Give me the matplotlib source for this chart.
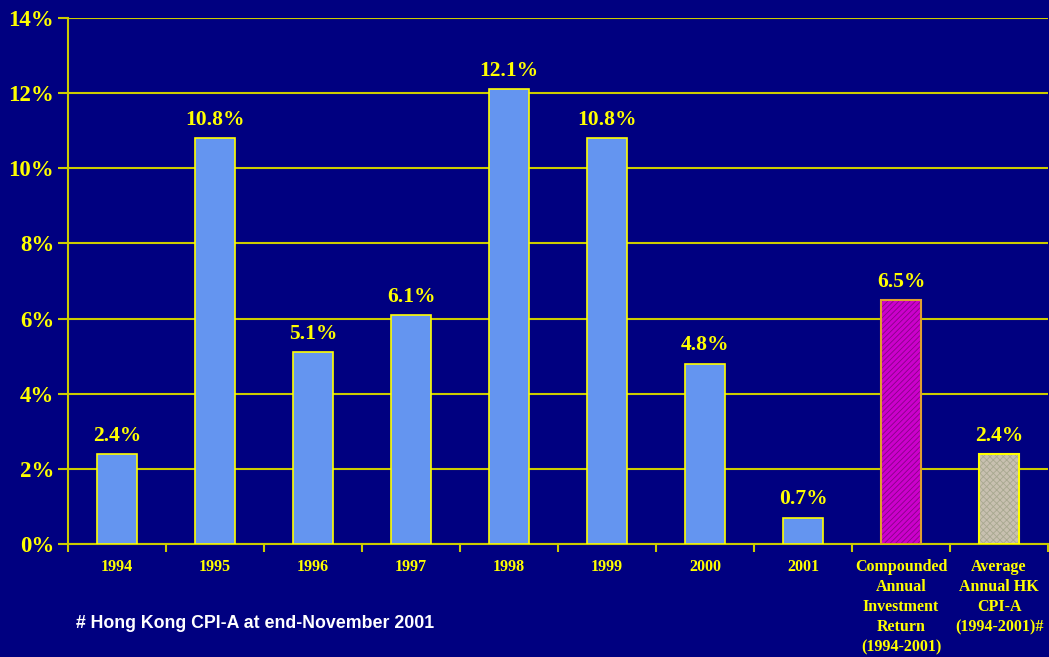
import matplotlib.pyplot as plt
import numpy as np

# data
categories = ['1994', '1995', '1996', '1997', '1998', '1999', '2000', '2001',
              'Compounded\nAnnual\nInvestment\nReturn\n(1994-2001)',
              'Average\nAnnual HK\nCPI-A\n(1994-2001)#']
values = [2.4, 10.8, 5.1, 6.1, 12.1, 10.8, 4.8, 0.7, 6.5, 2.4]
value_labels = ['2.4%', '10.8%', '5.1%', '6.1%', '12.1%', '10.8%', '4.8%', '0.7%', '6.5%', '2.4%']
yticks = [0, 2, 4, 6, 8, 10, 12, 14]
ytick_labels = ['0%', '2%', '4%', '6%', '8%', '10%', '12%', '14%']
footnote = '# Hong Kong CPI-A at end-November 2001'

navy = '#000080'
yellow = '#FFFF00'
grid_yellow = '#CCCC00'
blue = '#6495F0'

plt.rcParams['hatch.linewidth'] = 0.6

fig = plt.figure(figsize=(10.49, 6.57), dpi=100, facecolor=navy)
ax = fig.add_axes([68 / 1049, 1 - 544 / 657, 980 / 1049, (544 - 18) / 657])
ax.set_facecolor(navy)

x = np.arange(len(values))
w = 0.41
ax.bar(x[:8], values[:8], width=w, color=blue, edgecolor=yellow, linewidth=1.2, zorder=3)

# hatched summary bars: fill with hatch first, then outline on top
ax.bar(x[8], values[8], width=w, color='#CC00CC', edgecolor='#880088', hatch='//////', linewidth=0, zorder=3)
ax.bar(x[8], values[8], width=w, fill=False, edgecolor='#E0A030', linewidth=1.5, zorder=4)
ax.bar(x[9], values[9], width=w, color='#C8C0B0', edgecolor='#A8A890', hatch='xxxxx', linewidth=0, zorder=3)
ax.bar(x[9], values[9], width=w, fill=False, edgecolor=yellow, linewidth=1.5, zorder=4)

for xi, v, lab in zip(x, values, value_labels):
    ax.text(xi, v + 0.22, lab, ha='center', va='bottom', color=yellow,
            fontsize=15.5, fontweight='bold', family='Liberation Serif')

ax.set_xlim(-0.5, len(values) - 0.5)
ax.set_ylim(0, 14)
ax.set_yticks(yticks)
ax.set_yticklabels(ytick_labels, color=yellow, fontsize=16.5, fontweight='bold', family='Liberation Serif')
ax.yaxis.grid(True, color=grid_yellow, linewidth=1.5, zorder=1)
ax.set_axisbelow(True)
ax.tick_params(axis='y', colors=grid_yellow, length=7, width=1.5, pad=3, labelcolor=yellow)

ax.set_xticks(x)
ax.set_xticklabels(categories, color=yellow, fontsize=11.5, fontweight='bold', family='Liberation Serif',
                   linespacing=1.33, va='top')
ax.tick_params(axis='x', length=0, pad=11)
ax.set_xticks(np.arange(len(values) + 1) - 0.5, minor=True)
ax.tick_params(axis='x', which='minor', length=6, width=1.5, colors=grid_yellow)

for side in ['top', 'right']:
    ax.spines[side].set_visible(False)
for side in ['left', 'bottom']:
    ax.spines[side].set_color(grid_yellow)
    ax.spines[side].set_linewidth(1.5)

fig.text(76 / 1049, 1 - 623 / 657, footnote, color='white', fontsize=12.8, fontweight='bold',
         family='Liberation Sans', va='center', ha='left')

plt.savefig('out.png', dpi=100, facecolor=navy)
